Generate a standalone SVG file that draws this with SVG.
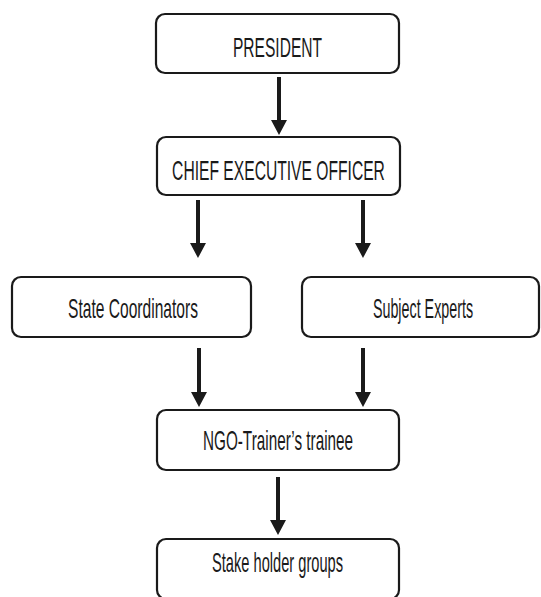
<svg xmlns="http://www.w3.org/2000/svg" width="541" height="597" viewBox="0 0 541 597">
<style>
.box{fill:#fff;stroke:#1a1a1a;stroke-width:2.2}
.lbl{font-family:"Liberation Sans",Arial,sans-serif;font-size:28px;fill:#1a1a1a;text-anchor:middle}
.con{stroke:#1a1a1a;stroke-width:4;fill:none}
.head{fill:#1a1a1a}
</style>
<rect width="541" height="597" fill="#fff"/>
<g id="connectors">
<line class="con" x1="279" y1="77" x2="279" y2="121"/>
<polygon class="head" points="271,120 287,120 279,135"/>
<line class="con" x1="198" y1="200" x2="198" y2="244"/>
<polygon class="head" points="190,243 206,243 198,258"/>
<line class="con" x1="363" y1="200" x2="363" y2="244"/>
<polygon class="head" points="355,243 371,243 363,258"/>
<line class="con" x1="199" y1="348" x2="199" y2="393"/>
<polygon class="head" points="191,392 207,392 199,407"/>
<line class="con" x1="363" y1="348" x2="363" y2="393"/>
<polygon class="head" points="355,392 371,392 363,407"/>
<line class="con" x1="278" y1="477" x2="278" y2="521"/>
<polygon class="head" points="270,520 286,520 278,535"/>
</g>
<g id="president">
<rect class="box" x="156" y="14" width="243" height="59" rx="9"/>
<text class="lbl" transform="translate(277.5,57) scale(0.56,1)" x="0" y="0" textLength="159" lengthAdjust="spacingAndGlyphs">PRESIDENT</text>
</g>
<g id="ceo">
<rect class="box" x="157" y="137" width="243" height="58" rx="9"/>
<text class="lbl" transform="translate(278.5,180) scale(0.56,1)" x="0" y="0" textLength="380" lengthAdjust="spacingAndGlyphs">CHIEF EXECUTIVE OFFICER</text>
</g>
<g id="state-coordinators">
<rect class="box" x="12" y="277" width="239" height="60" rx="9"/>
<text class="lbl" transform="translate(133,318) scale(0.56,1)" x="0" y="0" textLength="232" lengthAdjust="spacingAndGlyphs">State Coordinators</text>
</g>
<g id="subject-experts">
<rect class="box" x="302" y="277" width="237" height="60" rx="9"/>
<text class="lbl" transform="translate(423,318) scale(0.56,1)" x="0" y="0" textLength="179" lengthAdjust="spacingAndGlyphs">Subject Experts</text>
</g>
<g id="ngo-trainee">
<rect class="box" x="157" y="410" width="242" height="60" rx="9"/>
<text class="lbl" transform="translate(278,450) scale(0.56,1)" x="0" y="0" textLength="268" lengthAdjust="spacingAndGlyphs">NGO-Trainer’s trainee</text>
</g>
<g id="stakeholders">
<rect class="box" x="157" y="539" width="242" height="60" rx="9"/>
<text class="lbl" transform="translate(277.5,572) scale(0.56,1)" x="0" y="0" textLength="234" lengthAdjust="spacingAndGlyphs">Stake holder groups</text>
</g>
</svg>
